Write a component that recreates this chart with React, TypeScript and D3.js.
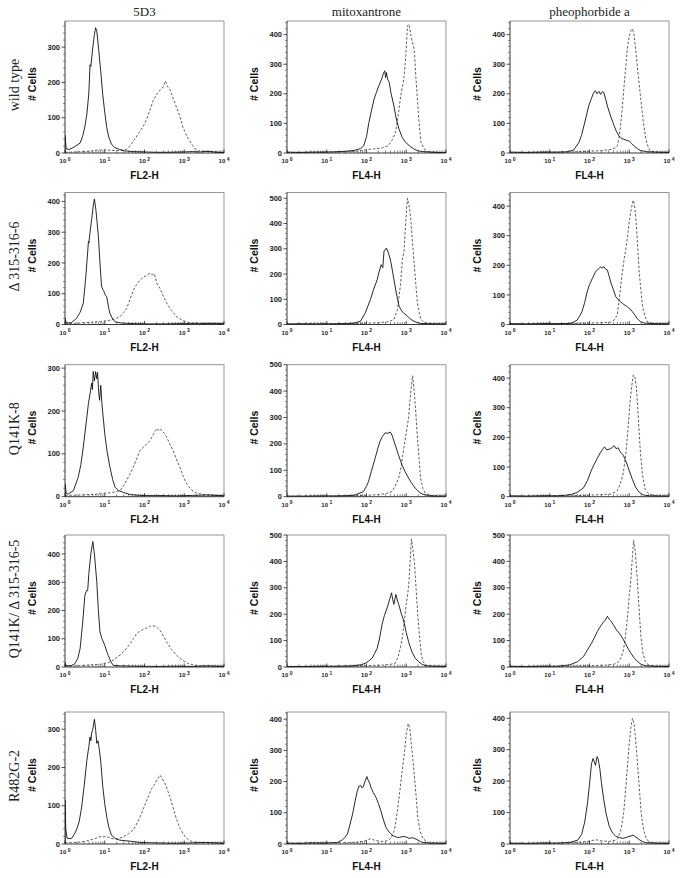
import React from "react";
import * as d3 from "d3";

// ---------- labels ----------
const ROW_LABELS = ["wild type", "\u0394 315-316-6", "Q141K-8", "Q141K/ \u0394 315-316-5", "R482G-2"];
const COL_TITLES = ["5D3", "mitoxantrone", "pheophorbide a"];
const X_TITLES = ["FL2-H", "FL4-H", "FL4-H"];
const Y_TITLE = "# Cells";
const X_DECADES = [0, 1, 2, 3, 4];
const Y_MAX = [
  [374, 446, 446],
  [429, 523, 446],
  [308, 500, 445],
  [467, 500, 500],
  [345, 423, 420],
];

// ---------- data: [log10(fluorescence), # cells] ----------
const WT_5D3_SOLID = [[0,0],[0,50],[0.03,12],[0.1,10],[0.2,15],[0.3,22],[0.38,28],[0.45,50],[0.5,75],[0.55,110],[0.6,170],[0.63,250],[0.65,245],[0.7,300],[0.74,335],[0.77,355],[0.8,345],[0.85,290],[0.9,230],[0.95,165],[1.0,115],[1.05,72],[1.1,45],[1.17,25],[1.25,15],[1.38,10],[1.5,6],[1.7,4],[2.0,3],[2.3,2],[2.6,2],[3.0,3],[3.2,4],[3.4,3],[3.6,5],[3.8,2],[4.0,1]];
const WT_5D3_DASHED = [[0,2],[0.3,3],[0.6,5],[0.8,8],[1.0,9],[1.2,7],[1.4,7],[1.55,10],[1.65,22],[1.72,34],[1.85,55],[1.97,76],[2.05,95],[2.15,125],[2.21,147],[2.3,165],[2.4,180],[2.46,185],[2.53,204],[2.58,188],[2.64,180],[2.72,155],[2.81,128],[2.9,100],[2.97,72],[3.08,45],[3.19,25],[3.27,12],[3.35,6],[3.5,5],[3.7,4],[3.9,3],[4.0,2]];
const WT_MITO_SOLID = [[0,3],[0.3,2],[0.6,3],[0.9,3],[1.2,4],[1.5,6],[1.7,9],[1.85,15],[1.93,24],[2.0,55],[2.06,103],[2.12,140],[2.19,182],[2.25,205],[2.31,227],[2.38,250],[2.43,270],[2.46,278],[2.48,255],[2.5,272],[2.53,250],[2.57,239],[2.62,200],[2.69,159],[2.75,115],[2.82,80],[2.9,52],[2.99,35],[3.1,22],[3.2,13],[3.28,8],[3.4,5],[3.6,3],[3.8,2],[4.0,1]];
const WT_MITO_DASHED = [[0,2],[0.5,2],[1.0,3],[1.5,4],[1.8,7],[2.0,12],[2.2,14],[2.4,17],[2.55,25],[2.65,45],[2.73,70],[2.8,130],[2.86,193],[2.94,250],[2.99,330],[3.03,430],[3.07,435],[3.12,395],[3.2,351],[3.24,260],[3.28,182],[3.33,90],[3.37,36],[3.45,14],[3.54,5],[3.7,3],[3.9,2],[4.0,2]];
const WT_PHEO_SOLID = [[0,3],[0.4,2],[0.8,3],[1.2,3],[1.43,4],[1.6,10],[1.73,35],[1.8,60],[1.86,92],[1.92,125],[1.98,159],[2.05,185],[2.11,205],[2.15,210],[2.19,200],[2.24,208],[2.28,198],[2.32,207],[2.36,205],[2.41,180],[2.45,159],[2.53,125],[2.62,92],[2.68,72],[2.74,58],[2.8,50],[2.87,46],[2.95,42],[3.0,40],[3.06,32],[3.12,24],[3.2,15],[3.29,8],[3.46,4],[3.7,3],[4.0,2]];
const WT_PHEO_DASHED = [[0,2],[0.5,2],[1.0,3],[1.5,3],[2.0,6],[2.3,8],[2.55,12],[2.65,18],[2.7,24],[2.74,50],[2.78,92],[2.83,160],[2.87,227],[2.91,290],[2.95,351],[3.0,395],[3.04,413],[3.08,420],[3.12,400],[3.16,351],[3.22,270],[3.29,182],[3.35,110],[3.42,46],[3.48,18],[3.54,5],[3.7,3],[4.0,2]];

const D315_5D3_SOLID = [[0,0],[0,20],[0.03,6],[0.15,5],[0.29,20],[0.38,40],[0.46,69],[0.52,150],[0.55,200],[0.59,270],[0.6,265],[0.63,300],[0.67,341],[0.71,385],[0.74,408],[0.78,370],[0.84,286],[0.88,200],[0.92,123],[0.97,110],[1.02,95],[1.05,90],[1.09,60],[1.13,36],[1.2,18],[1.26,9],[1.4,5],[1.7,3],[2.0,2],[2.5,2],[3.0,3],[3.3,4],[3.6,3],[3.8,4],[4.0,2]];
const D315_5D3_DASHED = [[0,3],[0.3,4],[0.6,7],[0.9,10],[1.1,13],[1.25,18],[1.38,25],[1.47,38],[1.55,52],[1.63,80],[1.72,112],[1.8,130],[1.89,145],[1.98,155],[2.06,160],[2.14,167],[2.2,162],[2.25,165],[2.31,134],[2.4,115],[2.48,90],[2.56,69],[2.68,45],[2.81,25],[2.95,14],[3.06,8],[3.2,5],[3.4,4],[3.6,5],[3.8,3],[4.0,2]];
const D315_MITO_SOLID = [[0,2],[0.4,3],[0.8,2],[1.2,3],[1.5,4],[1.7,6],[1.85,13],[1.97,46],[2.04,75],[2.1,99],[2.18,140],[2.27,178],[2.32,210],[2.37,237],[2.41,225],[2.44,290],[2.5,303],[2.55,285],[2.61,250],[2.65,215],[2.69,178],[2.75,125],[2.82,72],[2.9,50],[3.03,33],[3.1,22],[3.2,12],[3.37,4],[3.6,3],[3.8,2],[4.0,2]];
const D315_MITO_DASHED = [[0,2],[0.5,2],[1.0,3],[1.5,3],[2.0,5],[2.3,7],[2.5,10],[2.62,15],[2.69,20],[2.78,59],[2.86,165],[2.9,257],[2.94,283],[2.99,415],[3.03,500],[3.07,470],[3.11,427],[3.15,340],[3.2,241],[3.24,160],[3.28,86],[3.33,45],[3.37,20],[3.45,8],[3.55,5],[3.7,3],[4.0,2]];
const D315_PHEO_SOLID = [[0,3],[0.4,2],[0.8,3],[1.2,3],[1.52,4],[1.6,8],[1.69,15],[1.75,28],[1.81,43],[1.88,75],[1.94,110],[2.0,135],[2.07,155],[2.15,178],[2.2,185],[2.24,189],[2.28,195],[2.32,190],[2.36,196],[2.4,188],[2.45,184],[2.49,165],[2.53,144],[2.6,118],[2.66,94],[2.75,80],[2.83,71],[2.95,60],[3.02,52],[3.08,43],[3.14,32],[3.2,20],[3.28,10],[3.37,5],[3.6,3],[4.0,2]];
const D315_PHEO_DASHED = [[0,2],[0.5,2],[1.0,3],[1.5,3],[2.0,5],[2.3,6],[2.53,8],[2.62,15],[2.7,32],[2.76,100],[2.8,150],[2.83,178],[2.87,220],[2.91,251],[2.96,300],[3.0,347],[3.05,390],[3.1,420],[3.13,405],[3.16,370],[3.2,290],[3.25,178],[3.29,120],[3.33,66],[3.39,30],[3.46,8],[3.6,4],[4.0,2]];

const Q141K_5D3_SOLID = [[0,0],[0,30],[0.03,8],[0.08,6],[0.21,14],[0.33,45],[0.4,75],[0.46,116],[0.53,170],[0.59,218],[0.63,240],[0.67,265],[0.69,250],[0.71,292],[0.74,270],[0.77,292],[0.8,275],[0.82,290],[0.85,240],[0.87,225],[0.9,260],[0.93,215],[1.0,147],[1.06,105],[1.13,69],[1.2,40],[1.26,22],[1.35,14],[1.47,10],[1.64,5],[1.9,3],[2.3,3],[2.8,2],[3.2,3],[3.6,4],[4.0,2]];
const Q141K_5D3_DASHED = [[0,3],[0.4,4],[0.8,6],[1.0,8],[1.2,10],[1.38,14],[1.47,25],[1.55,38],[1.63,52],[1.72,69],[1.8,88],[1.89,108],[2.0,118],[2.14,131],[2.22,145],[2.31,159],[2.35,155],[2.39,159],[2.45,152],[2.5,148],[2.56,139],[2.64,122],[2.72,108],[2.8,88],[2.89,69],[2.97,48],[3.06,30],[3.18,16],[3.31,8],[3.5,5],[3.7,4],[3.9,3],[4.0,2]];
const Q141K_MITO_SOLID = [[0,2],[0.4,2],[0.8,3],[1.2,3],[1.5,4],[1.7,6],[1.92,19],[2.0,40],[2.05,57],[2.12,95],[2.22,147],[2.28,180],[2.34,210],[2.4,228],[2.47,242],[2.53,240],[2.6,245],[2.65,230],[2.72,197],[2.8,160],[2.89,121],[2.97,95],[3.06,70],[3.14,50],[3.23,32],[3.32,18],[3.4,10],[3.6,3],[3.8,2],[4.0,2]];
const Q141K_MITO_DASHED = [[0,2],[0.5,2],[1.0,2],[1.5,3],[2.0,5],[2.3,8],[2.5,12],[2.64,19],[2.72,40],[2.81,70],[2.88,120],[2.94,185],[3.02,261],[3.06,300],[3.1,376],[3.13,420],[3.16,458],[3.2,400],[3.24,320],[3.27,248],[3.32,150],[3.36,70],[3.42,30],[3.48,13],[3.6,5],[3.8,3],[4.0,2]];
const Q141K_PHEO_SOLID = [[0,3],[0.4,2],[0.8,3],[1.2,3],[1.4,5],[1.55,8],[1.7,15],[1.85,30],[1.95,55],[2.05,90],[2.12,110],[2.2,130],[2.27,148],[2.33,160],[2.38,168],[2.43,158],[2.5,160],[2.56,165],[2.62,172],[2.67,162],[2.72,165],[2.78,150],[2.85,140],[2.92,118],[3.0,88],[3.08,58],[3.16,32],[3.25,15],[3.35,6],[3.5,3],[3.8,2],[4.0,2]];
const Q141K_PHEO_DASHED = [[0,2],[0.5,2],[1.0,3],[1.5,3],[2.0,5],[2.3,7],[2.55,9],[2.7,20],[2.78,45],[2.85,80],[2.92,150],[2.97,230],[3.02,320],[3.06,370],[3.1,410],[3.14,405],[3.18,370],[3.23,260],[3.28,150],[3.33,75],[3.4,25],[3.5,8],[3.65,4],[4.0,2]];

const Q141KD_5D3_SOLID = [[0,0],[0,15],[0.03,5],[0.15,4],[0.25,12],[0.32,30],[0.38,65],[0.44,150],[0.5,253],[0.54,270],[0.57,270],[0.6,330],[0.65,400],[0.7,444],[0.74,400],[0.8,300],[0.84,200],[0.88,124],[0.93,100],[1.0,77],[1.05,55],[1.09,41],[1.15,20],[1.21,6],[1.4,4],[1.8,3],[2.3,2],[2.8,3],[3.2,2],[3.6,4],[4.0,2]];
const Q141KD_5D3_DASHED = [[0,3],[0.3,4],[0.6,7],[0.9,10],[1.1,16],[1.21,24],[1.35,38],[1.47,53],[1.56,68],[1.64,83],[1.72,100],[1.8,118],[1.9,128],[2.01,136],[2.1,140],[2.18,147],[2.24,145],[2.3,142],[2.39,130],[2.47,110],[2.56,88],[2.68,62],[2.81,41],[2.95,24],[3.1,12],[3.3,5],[3.5,4],[3.8,3],[4.0,2]];
const Q141KD_MITO_SOLID = [[0,2],[0.4,2],[0.8,3],[1.2,3],[1.6,4],[1.85,8],[1.97,14],[2.05,22],[2.14,33],[2.2,50],[2.27,71],[2.33,110],[2.39,160],[2.45,195],[2.52,224],[2.57,250],[2.61,270],[2.63,281],[2.66,255],[2.69,237],[2.72,262],[2.74,275],[2.78,250],[2.81,237],[2.87,205],[2.94,173],[3.0,130],[3.06,95],[3.14,58],[3.22,35],[3.31,20],[3.4,10],[3.48,5],[3.7,3],[4.0,2]];
const Q141KD_MITO_DASHED = [[0,2],[0.5,2],[1.0,3],[1.5,3],[2.0,5],[2.4,7],[2.6,10],[2.72,14],[2.8,40],[2.85,71],[2.9,110],[2.94,160],[3.0,237],[3.04,280],[3.07,326],[3.1,410],[3.13,485],[3.17,440],[3.21,389],[3.25,290],[3.29,198],[3.33,120],[3.38,46],[3.43,20],[3.48,8],[3.6,4],[4.0,2]];
const Q141KD_PHEO_SOLID = [[0,3],[0.4,2],[0.8,3],[1.2,3],[1.5,8],[1.7,20],[1.85,40],[1.95,65],[2.05,90],[2.12,110],[2.2,135],[2.28,155],[2.35,170],[2.4,178],[2.45,192],[2.5,180],[2.55,172],[2.6,160],[2.68,140],[2.75,128],[2.82,112],[2.9,90],[2.97,70],[3.05,50],[3.12,35],[3.2,22],[3.3,10],[3.4,5],[3.6,3],[4.0,2]];
const Q141KD_PHEO_DASHED = [[0,2],[0.5,2],[1.0,3],[1.5,3],[2.0,5],[2.4,7],[2.6,10],[2.7,15],[2.78,30],[2.85,60],[2.9,110],[2.95,180],[3.0,270],[3.04,330],[3.08,420],[3.11,480],[3.15,440],[3.19,360],[3.24,240],[3.29,120],[3.34,55],[3.4,22],[3.48,8],[3.6,4],[4.0,2]];

const R482G_5D3_SOLID = [[0,0],[0,115],[0.02,40],[0.05,15],[0.12,14],[0.17,15],[0.23,25],[0.29,37],[0.36,60],[0.42,97],[0.48,150],[0.55,219],[0.6,255],[0.63,280],[0.65,270],[0.67,290],[0.7,300],[0.74,326],[0.77,300],[0.8,263],[0.83,270],[0.86,250],[0.9,215],[0.95,150],[1.0,105],[1.05,71],[1.1,45],[1.17,23],[1.27,14],[1.38,10],[1.67,7],[1.9,4],[2.3,3],[2.8,2],[3.2,3],[3.5,4],[3.8,3],[4.0,2]];
const R482G_5D3_DASHED = [[0,3],[0.3,4],[0.55,8],[0.75,14],[0.88,19],[1.05,19],[1.15,15],[1.26,13],[1.37,15],[1.47,19],[1.6,27],[1.72,37],[1.8,52],[1.89,71],[1.97,92],[2.06,115],[2.12,130],[2.18,145],[2.25,155],[2.31,167],[2.36,175],[2.39,180],[2.45,170],[2.52,158],[2.58,140],[2.64,124],[2.72,95],[2.81,63],[2.9,40],[3.02,19],[3.12,10],[3.23,5],[3.5,4],[3.8,3],[4.0,2]];
const R482G_MITO_SOLID = [[0,3],[0.3,2],[0.6,4],[0.9,3],[1.1,4],[1.27,5],[1.39,13],[1.45,20],[1.52,32],[1.58,60],[1.65,96],[1.71,135],[1.77,171],[1.81,185],[1.86,187],[1.89,180],[1.92,183],[1.96,200],[2.01,216],[2.04,205],[2.08,195],[2.11,182],[2.17,165],[2.24,149],[2.3,130],[2.36,107],[2.42,80],[2.49,53],[2.57,38],[2.66,27],[2.75,22],[2.83,21],[2.91,24],[2.99,23],[3.07,18],[3.16,20],[3.22,17],[3.29,13],[3.36,8],[3.42,5],[3.6,3],[4.0,2]];
const R482G_MITO_DASHED = [[0,3],[0.5,2],[1.0,3],[1.5,4],[1.8,6],[1.95,10],[2.05,15],[2.11,17],[2.2,12],[2.36,8],[2.53,10],[2.62,20],[2.7,43],[2.76,90],[2.83,160],[2.87,205],[2.91,246],[2.96,300],[3.0,353],[3.05,386],[3.09,370],[3.12,331],[3.16,280],[3.2,224],[3.25,150],[3.29,85],[3.35,40],[3.42,17],[3.55,5],[3.8,3],[4.0,2]];
const R482G_PHEO_SOLID = [[0,3],[0.4,2],[0.8,3],[1.2,3],[1.5,5],[1.7,12],[1.8,30],[1.88,70],[1.95,130],[2.0,190],[2.05,255],[2.09,272],[2.12,262],[2.15,250],[2.19,278],[2.22,270],[2.26,240],[2.3,195],[2.36,140],[2.42,95],[2.5,55],[2.58,35],[2.66,25],[2.75,20],[2.85,18],[2.95,22],[3.02,25],[3.1,28],[3.17,22],[3.25,14],[3.33,8],[3.42,4],[3.6,3],[4.0,2]];
const R482G_PHEO_DASHED = [[0,2],[0.5,2],[1.0,3],[1.5,4],[1.8,6],[2.0,9],[2.1,12],[2.2,13],[2.3,10],[2.5,8],[2.65,12],[2.72,20],[2.8,50],[2.86,100],[2.9,160],[2.95,240],[3.0,320],[3.04,370],[3.08,400],[3.12,385],[3.16,330],[3.2,270],[3.24,200],[3.3,100],[3.36,45],[3.42,20],[3.5,6],[3.7,3],[4.0,2]];

const PANELS = [
  [[WT_5D3_SOLID, WT_5D3_DASHED], [WT_MITO_SOLID, WT_MITO_DASHED], [WT_PHEO_SOLID, WT_PHEO_DASHED]],
  [[D315_5D3_SOLID, D315_5D3_DASHED], [D315_MITO_SOLID, D315_MITO_DASHED], [D315_PHEO_SOLID, D315_PHEO_DASHED]],
  [[Q141K_5D3_SOLID, Q141K_5D3_DASHED], [Q141K_MITO_SOLID, Q141K_MITO_DASHED], [Q141K_PHEO_SOLID, Q141K_PHEO_DASHED]],
  [[Q141KD_5D3_SOLID, Q141KD_5D3_DASHED], [Q141KD_MITO_SOLID, Q141KD_MITO_DASHED], [Q141KD_PHEO_SOLID, Q141KD_PHEO_DASHED]],
  [[R482G_5D3_SOLID, R482G_5D3_DASHED], [R482G_MITO_SOLID, R482G_MITO_DASHED], [R482G_PHEO_SOLID, R482G_PHEO_DASHED]],
];

// ---------- layout ----------
const COL_LEFT = [65, 287, 510];
const ROW_BOTTOM = [153, 324.5, 496.7, 667, 844];
const PW = 159;
const PH = 132;
const SANS = "'Liberation Sans', Arial, sans-serif";
const SERIF = "'Liberation Serif', 'Times New Roman', serif";

function Panel({ r, c }: { r: number; c: number }) {
  const left = COL_LEFT[c];
  const top = ROW_BOTTOM[r] - PH;
  const x = d3.scaleLog().domain([1, 1e4]).range([0, PW]);
  const y = d3.scaleLinear().domain([0, Y_MAX[r][c]]).range([PH, 0]);
  const line = d3
    .line<number[]>()
    .x((d) => x(Math.pow(10, d[0])))
    .y((d) => y(d[1]));
  const [solid, dashed] = PANELS[r][c];
  const majors = d3.range(0, Y_MAX[r][c] + 0.1, 100);
  const minorsY = d3.range(0, Y_MAX[r][c], 20).filter((v) => v % 100 !== 0);
  const minorsX: number[] = [];
  for (let d = 0; d < 4; d++) for (let k = 2; k <= 9; k++) minorsX.push(k * Math.pow(10, d));
  const clipId = `clip-${r}-${c}`;
  return (
    <g transform={`translate(${left},${top})`}>
      <defs>
        <clipPath id={clipId}>
          <rect x={0} y={-1} width={PW} height={PH + 1} />
        </clipPath>
      </defs>
      {/* frame */}
      <line x1={0} y1={0} x2={PW} y2={0} stroke="#8a8a8a" strokeWidth={0.9} />
      <line x1={PW} y1={0} x2={PW} y2={PH} stroke="#8a8a8a" strokeWidth={0.9} />
      <line x1={0} y1={0} x2={0} y2={PH} stroke="#222" strokeWidth={0.9} />
      <line x1={0} y1={PH} x2={PW} y2={PH} stroke="#222" strokeWidth={0.9} />
      {/* y ticks */}
      {minorsY.map((v) => (
        <line key={"ym" + v} x1={-2} x2={0} y1={y(v)} y2={y(v)} stroke="#444" strokeWidth={0.6} />
      ))}
      {majors.map((v) => (
        <g key={"yM" + v}>
          <line x1={-3.5} x2={0} y1={y(v)} y2={y(v)} stroke="#222" strokeWidth={0.8} />
          <text x={-5} y={y(v) + 2.6} textAnchor="end" fontFamily={SANS} fontWeight="bold" fontSize={7.5} fill="#222">
            {v}
          </text>
        </g>
      ))}
      {/* x ticks */}
      {minorsX.map((v) => (
        <line key={"xm" + v} x1={x(v)} x2={x(v)} y1={PH} y2={PH - 2.5} stroke="#333" strokeWidth={0.6} />
      ))}
      {X_DECADES.map((d) => (
        <g key={"xM" + d}>
          <line x1={x(Math.pow(10, d))} x2={x(Math.pow(10, d))} y1={PH} y2={PH - 3.5} stroke="#222" strokeWidth={0.8} />
          <text x={x(Math.pow(10, d))} y={PH + 10} textAnchor="middle" fontFamily={SANS} fontWeight="bold" fontSize={6} fill="#222">
            <tspan>10</tspan>
            <tspan dy={-2.5} fontSize={5}>{" " + d}</tspan>
          </text>
        </g>
      ))}
      {/* curves */}
      <g clipPath={`url(#${clipId})`}>
        <path d={line(dashed as number[][]) || ""} fill="none" stroke="#333" strokeWidth={0.8} strokeDasharray="2.5,1.8" />
        <path d={line(solid as number[][]) || ""} fill="none" stroke="#111" strokeWidth={0.9} strokeLinejoin="round" />
      </g>
      {/* axis titles */}
      <text
        transform={`translate(${-29},${PH / 2 - 3}) rotate(-90)`}
        textAnchor="middle"
        fontFamily={SANS}
        fontWeight="bold"
        fontSize={10.5}
        fill="#111"
      >
        {Y_TITLE}
      </text>
      <text x={PW / 2} y={PH + 26} textAnchor="middle" fontFamily={SANS} fontWeight="bold" fontSize={10} fill="#111">
        {X_TITLES[c]}
      </text>
    </g>
  );
}

export default function App() {
  return (
    <svg
      width={682}
      height={878}
      viewBox="0 0 682 878"
      style={{ position: "absolute", left: 0, top: 0, background: "#fff" }}
    >
      <rect x={0} y={0} width={682} height={878} fill="#fff" />
      {COL_TITLES.map((t, c) => (
        <text key={t} x={COL_LEFT[c] + PW / 2} y={16} textAnchor="middle" fontFamily={SERIF} fontSize={13} fill="#222">
          {t}
        </text>
      ))}
      {ROW_LABELS.map((t, r) => (
        <text
          key={t}
          transform={`translate(19,${ROW_BOTTOM[r] - PH / 2 - 2}) rotate(-90)`}
          textAnchor="middle"
          fontFamily={SERIF}
          fontSize={14}
          fill="#222"
        >
          {t}
        </text>
      ))}
      {PANELS.map((row, r) => row.map((_, c) => <Panel key={`${r}-${c}`} r={r} c={c} />))}
    </svg>
  );
}
